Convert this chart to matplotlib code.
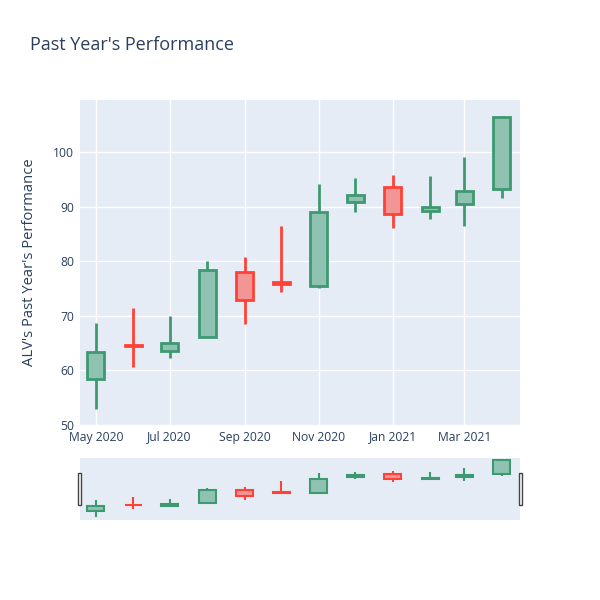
import matplotlib
matplotlib.use('Agg')

import numpy as np
import pandas as pd
import matplotlib.pyplot as plt
import matplotlib.dates as mdates
from matplotlib.patches import Rectangle

plt.rcParams['font.family'] = ['Open Sans', 'DejaVu Sans']

# monthly candles
dates = pd.to_datetime(['2020-05-01', '2020-06-01', '2020-07-01', '2020-08-01',
                        '2020-09-01', '2020-10-01', '2020-11-01', '2020-12-01',
                        '2021-01-01', '2021-02-01', '2021-03-01', '2021-04-01'])
opens = [58.4, 64.6, 63.5, 66.2, 78.0, 76.2, 75.5, 90.9, 93.5, 89.1, 90.4, 93.2]
highs = [68.6, 71.4, 70.0, 80.1, 80.7, 86.5, 94.1, 95.3, 95.8, 95.5, 99.0, 106.5]
lows = [52.9, 60.7, 62.2, 66.1, 68.4, 74.4, 75.1, 89.0, 86.0, 87.8, 86.5, 91.5]
closes = [63.4, 64.5, 65.0, 78.3, 72.8, 75.8, 89.0, 92.1, 88.7, 90.0, 92.8, 106.3]

tick_dates = pd.to_datetime(['2020-05-01', '2020-07-01', '2020-09-01',
                             '2020-11-01', '2021-01-01', '2021-03-01'])
tick_labels = ['May 2020', 'Jul 2020', 'Sep 2020', 'Nov 2020', 'Jan 2021', 'Mar 2021']

inc_color = '#3D9970'
dec_color = '#FF4136'
bg = '#E5ECF6'
txt = '#2a3f5f'

x = mdates.date2num(dates)
x_lo = mdates.date2num(pd.Timestamp('2020-04-18'))
x_hi = mdates.date2num(pd.Timestamp('2021-04-16'))


def draw_candles(ax, lw):
    for xi, o, h, l, c in zip(x, opens, highs, lows, closes):
        col = inc_color if c >= o else dec_color
        ax.vlines(xi, l, h, color=col, linewidth=lw, zorder=2)
        ax.bar(xi, c - o, bottom=o, width=14, facecolor=matplotlib.colors.to_rgba(col, 0.5),
               edgecolor=col, linewidth=lw, zorder=3)
        # hide the wick inside the body
        ax.bar(xi, c - o, bottom=o, width=14, facecolor=bg, edgecolor='none', zorder=2.5)


fig = plt.figure(figsize=(6, 6), dpi=100)
fig.patch.set_facecolor('white')

ax = fig.add_axes([80 / 600, 1 - 425 / 600, 440 / 600, 325 / 600])
ax.set_facecolor(bg)
draw_candles(ax, 2)
ax.set_xlim(x_lo, x_hi)
ax.set_ylim(50, 109.5)
ax.set_yticks([50, 60, 70, 80, 90, 100])
ax.set_xticks(mdates.date2num(tick_dates))
ax.set_xticklabels(tick_labels)
ax.grid(True, color='white', linewidth=1)
ax.set_axisbelow(True)
for s in ax.spines.values():
    s.set_visible(False)
ax.tick_params(length=0, labelsize=8.7, colors=txt, pad=4)
ax.set_ylabel("ALV's Past Year's Performance", fontsize=10.6, color=txt, labelpad=12)

# range slider
sl = fig.add_axes([80 / 600, 1 - 520 / 600, 440 / 600, 62 / 600])
sl.set_facecolor(bg)
draw_candles(sl, 1.5)
sl.set_xlim(x_lo, x_hi)
sl.set_ylim(50, 108.5)
sl.set_xticks([])
sl.set_yticks([])
for s in sl.spines.values():
    s.set_visible(False)

for hx in (77.5 / 600, 518.5 / 600):
    fig.patches.append(Rectangle((hx, 1 - 505 / 600), 3.5 / 600, 32 / 600,
                                 transform=fig.transFigure, facecolor='white',
                                 edgecolor='#444444', linewidth=1, zorder=5))

fig.text(30 / 600, 1 - 45 / 600, "Past Year's Performance", fontsize=13,
         color=txt, va='center', ha='left')

fig.savefig('out.png', dpi=100)
